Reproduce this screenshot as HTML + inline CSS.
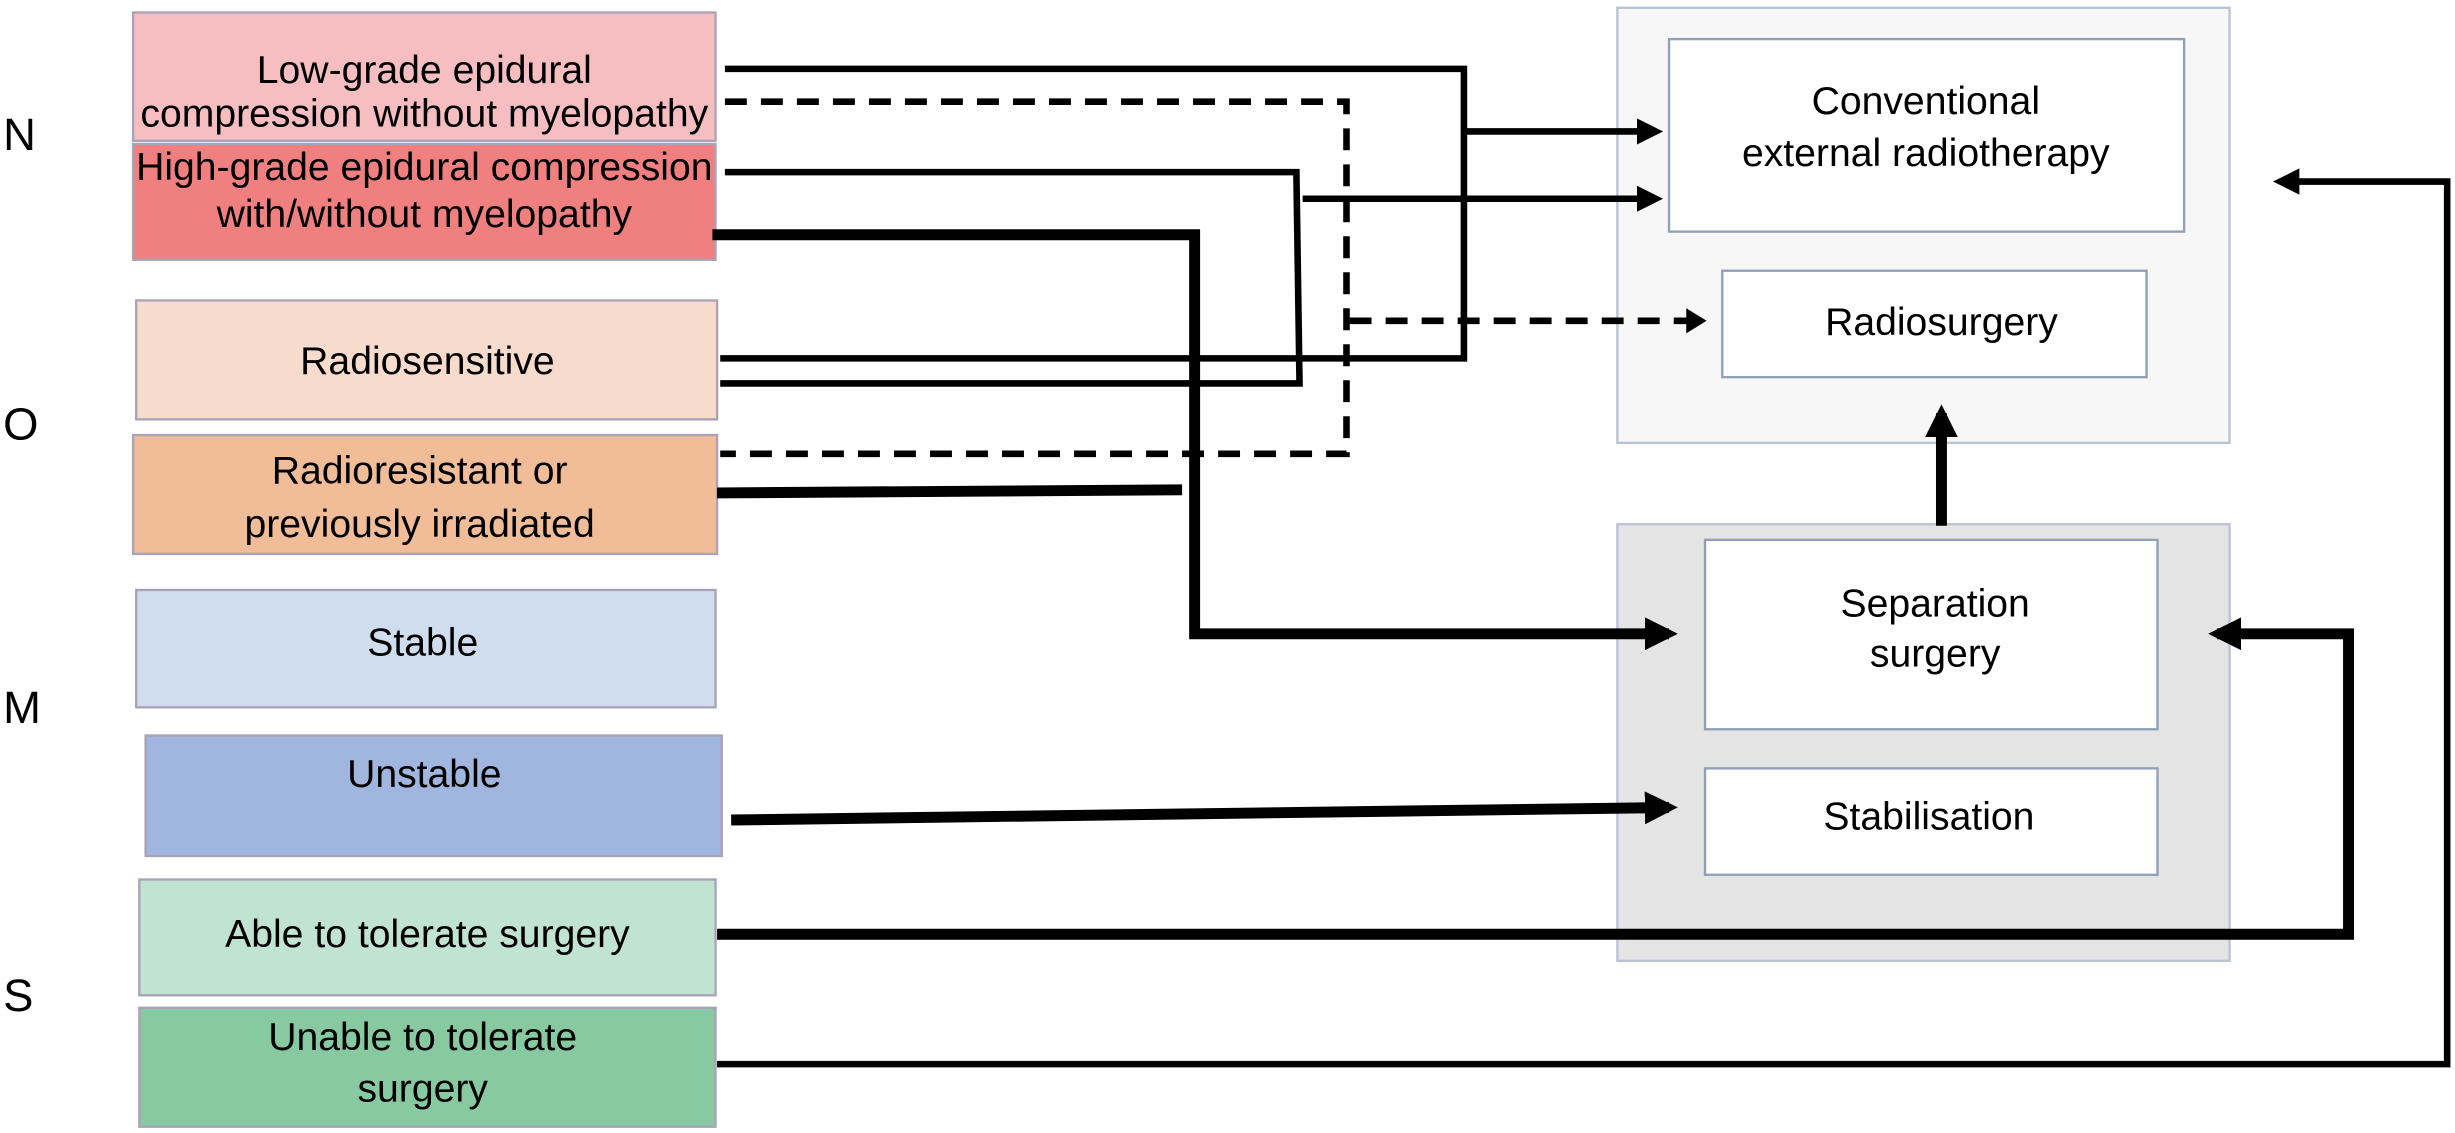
<!DOCTYPE html>
<html><head><meta charset="utf-8"><style>
html,body{margin:0;padding:0;background:#fff;}
svg{display:block;}
text{font-family:"Liberation Sans",sans-serif;font-size:25px;fill:#000;text-anchor:middle;}
.lt{font-family:"Liberation Sans",sans-serif;font-size:29px;text-anchor:start;}
</style></head><body>
<svg width="2455" height="1133" viewBox="0 0 1568 724" preserveAspectRatio="none" xmlns="http://www.w3.org/2000/svg">
<defs>
<marker id="ah" markerWidth="4" markerHeight="4" refX="3" refY="2" orient="auto" markerUnits="strokeWidth"><path d="M0,0 L4,2 L0,4 z" fill="#000"/></marker>
<marker id="ah2" markerWidth="3" markerHeight="3" refX="2.2" refY="1.5" orient="auto" markerUnits="strokeWidth"><path d="M0,0 L3,1.5 L0,3 z" fill="#000"/></marker>
</defs>
<text class="lt" x="2" y="96">N</text>
<text class="lt" x="2" y="281">O</text>
<text class="lt" x="2" y="462">M</text>
<text class="lt" x="2" y="646">S</text>
<g stroke="#a9a3b8" stroke-width="1.5">
<rect x="85" y="8" width="372" height="82" fill="#f7bec1"/>
<rect x="85" y="92" width="372" height="74" fill="#f07f80"/>
<rect x="87" y="192" width="371" height="76" fill="#f7dccd"/>
<rect x="85" y="278" width="373" height="76" fill="#f1bc98"/>
<rect x="87" y="377" width="370" height="75" fill="#d0ddef"/>
<rect x="93" y="470" width="368" height="77" fill="#a0b6de"/>
<rect x="89" y="562" width="368" height="74" fill="#c1e4d2"/>
<rect x="89" y="644" width="368" height="76" fill="#87c9a0"/>
</g>
<text x="271" y="53">Low-grade epidural</text>
<text x="271" y="81">compression without myelopathy</text>
<text x="271" y="115">High-grade epidural compression</text>
<text x="271" y="145">with/without myelopathy</text>
<text x="273" y="239">Radiosensitive</text>
<text x="268" y="309">Radioresistant or</text>
<text x="268" y="343">previously irradiated</text>
<text x="270" y="419">Stable</text>
<text x="271" y="503">Unstable</text>
<text x="273" y="605">Able to tolerate surgery</text>
<text x="270" y="671">Unable to tolerate</text>
<text x="270" y="704">surgery</text>
<rect x="1033" y="5" width="391" height="278" fill="#f7f7f7" stroke="#b8c4d6" stroke-width="1.5"/>
<rect x="1066" y="25" width="329" height="123" fill="#fff" stroke="#8fa0b8" stroke-width="1.5"/>
<rect x="1100" y="173" width="271" height="68" fill="#fff" stroke="#8fa0b8" stroke-width="1.5"/>
<text x="1230" y="73">Conventional</text>
<text x="1230" y="106">external radiotherapy</text>
<text x="1240" y="214">Radiosurgery</text>
<rect x="1033" y="335" width="391" height="279" fill="#e5e4e5" stroke="#b8c4d6" stroke-width="1.5"/>
<rect x="1089" y="345" width="289" height="121" fill="#fff" stroke="#8fa0b8" stroke-width="1.5"/>
<rect x="1089" y="491" width="289" height="68" fill="#fff" stroke="#8fa0b8" stroke-width="1.5"/>
<text x="1236" y="394">Separation</text>
<text x="1236" y="426">surgery</text>
<text x="1232" y="530">Stabilisation</text>
<g fill="none" stroke="#000" stroke-linejoin="miter">
<polyline points="463,44 935,44 935,229 460,229" stroke-width="4.2"/>
<line x1="935" y1="84" x2="1058" y2="84" stroke-width="4.2" marker-end="url(#ah)"/>
<polyline points="463,110 828,110 830,245 460,245" stroke-width="4.2"/>
<line x1="832" y1="127" x2="1058" y2="127" stroke-width="4.2" marker-end="url(#ah)"/>
<polyline points="463,65 860,65 860,290 460,290" stroke-width="4.2" stroke-dasharray="14,9"/>
<line x1="862" y1="205" x2="1080" y2="205" stroke-width="4.2" stroke-dasharray="14,9"/>
<path d="M1077,197 L1090,205 L1077,213 z" fill="#000" stroke="none"/>
<polyline points="455,150 763,150 763,405 1066,405" stroke-width="7" marker-end="url(#ah2)"/>
<line x1="458" y1="315" x2="755" y2="313" stroke-width="7"/>
<line x1="467" y1="524" x2="1066" y2="516" stroke-width="7" marker-end="url(#ah2)"/>
<polyline points="458,597 1500,597 1500,405 1416,405" stroke-width="7" marker-end="url(#ah2)"/>
<polyline points="458,680 1563,680 1563,116 1456,116" stroke-width="4.2" marker-end="url(#ah)"/>
<line x1="1240" y1="336" x2="1240" y2="264" stroke-width="7" marker-end="url(#ah2)"/>
</g>
</svg>
</body></html>
